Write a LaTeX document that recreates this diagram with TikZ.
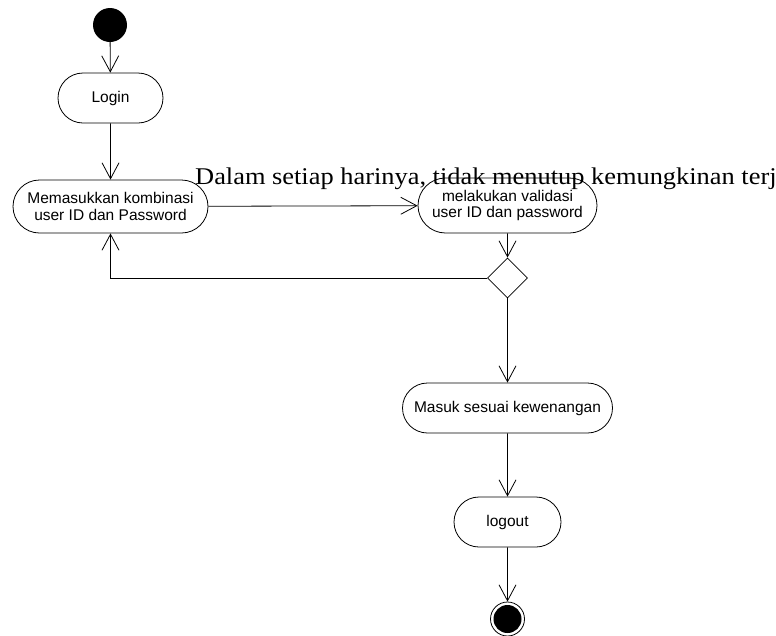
\documentclass[tikz,border=0pt]{standalone}
\usepackage{fontspec}
\setmainfont{Liberation Serif}[FakeStretch=1.1]
\newfontfamily\boxfont{Liberation Sans}
\usetikzlibrary{arrows.meta,shapes.misc,shapes.geometric}

\tikzset{
  flow/.style={draw, line width=0.8pt, -{Straight Barb[length=16pt,width=17pt,line width=0.8pt]}},
  activity/.style={draw, rounded rectangle, line width=0.8pt, inner sep=0pt,
    align=center, font=\boxfont\fontsize{15.5}{16.5}\selectfont},
}

\begin{document}
\begin{tikzpicture}[x=1pt,y=-1pt]
  \useasboundingbox (0,0) rectangle (776,635);
  %
  \node[circle, fill=black, minimum size=34pt, inner sep=0pt] (start) at (110,25) {};
  \node[activity, minimum width=105pt, minimum height=50pt] (login) at (110.5,98) {Login};
  \node[activity, minimum width=195pt, minimum height=53pt] (input) at (110.5,206.5)
    {Memasukkan kombinasi\\user ID dan Password};
  \node[activity, minimum width=179pt, minimum height=55pt] (validasi) at (507.5,205.5)
    {melakukan validasi\\user ID dan password};
  \node[diamond, draw, line width=0.8pt, minimum width=40pt, minimum height=40pt, inner sep=0pt] (cek) at (507.5,278) {};
  \node[activity, minimum width=210pt, minimum height=50pt] (akses) at (507.5,408) {Masuk sesuai kewenangan};
  \node[activity, minimum width=107pt, minimum height=50pt] (logout) at (507.5,522) {logout};
  \node[circle, draw, line width=0.8pt, minimum size=34pt, inner sep=0pt,
    path picture={\fill (path picture bounding box.center) circle (14pt);}] (stop) at (507.5,619) {};
  %
  \node[anchor=base west, inner sep=0pt, font=\fontsize{24}{28}\selectfont] (note) at (195,184)
    {Dalam setiap harinya, tidak menutup kemungkinan terj};
  %
  \draw[flow] (start) -- (login);
  \draw[flow] (login) -- (input);
  \draw[flow] (input) -- (validasi);
  \draw[flow] (validasi) -- (cek);
  \draw[flow] (cek.west) -| (input.south);
  \draw[flow] (cek) -- (akses);
  \draw[flow] (akses) -- (logout);
  \draw[flow] (logout) -- (stop);
\end{tikzpicture}
\end{document}
